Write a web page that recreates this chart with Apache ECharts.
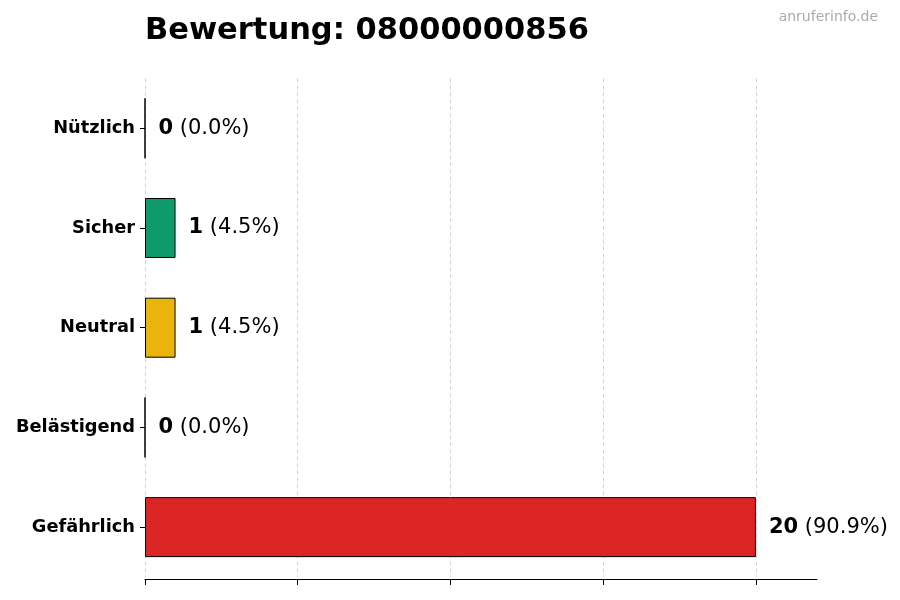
<!DOCTYPE html>
<html><head><meta charset="utf-8">
<script src="https://cdn.jsdelivr.net/npm/echarts@6/dist/echarts.min.js"></script>
<style>html,body{margin:0;padding:0;background:#fff}#c{width:900px;height:600px}</style>
</head><body><div id="c"></div>
<script>
const categories = ['Nützlich', 'Sicher', 'Neutral', 'Belästigend', 'Gefährlich'];
const counts = [0, 1, 1, 0, 20];
const percents = ['0.0%', '4.5%', '4.5%', '0.0%', '90.9%'];
const colors = ['#2b7bd6', '#0f9a6b', '#ebb40c', '#e07020', '#dc2626'];
const tickValues = [0, 5, 10, 15, 20];
const titleText = 'Bewertung: 08000000856';
const watermark = 'anruferinfo.de';

const chart = echarts.init(document.getElementById('c'));
const font = 'DejaVu Sans';
chart.setOption({
  animation: false,
  textStyle: { fontFamily: font },
  title: [
    { text: titleText, left: 145, top: 16, padding: 0, textStyle: { fontFamily: font, fontSize: 30.5, fontWeight: 'bold', color: '#000' } },
    { text: watermark, right: 22, top: 10, padding: 0, textStyle: { fontFamily: font, fontSize: 14, fontWeight: 'normal', color: '#aaaaaa' } }
  ],
  grid: { left: 145, right: 83, top: 78.4, bottom: 23, containLabel: false },
  xAxis: {
    type: 'value', min: 0, max: 22, interval: 5, offset: 2,
    axisLine: { show: true, lineStyle: { color: '#000', width: 1 } },
    axisTick: { show: true, length: 6, lineStyle: { color: '#000' }, customValues: tickValues },
    axisLabel: { show: false },
    splitLine: { show: true, lineStyle: { color: '#d4d4d4', type: [4, 3], width: 1 } }
  },
  yAxis: {
    type: 'category', inverse: true, data: categories,
    axisLine: { show: false },
    axisTick: { show: true, length: 5, alignWithLabel: true, lineStyle: { color: '#000' } },
    axisLabel: { margin: 10, padding: [3, 0, 0, 0], fontFamily: font, fontSize: 17.8, fontWeight: 'bold', color: '#000' }
  },
  series: [{
    type: 'bar', barWidth: 60, z: 1,
    data: counts.map((v, i) => ({ value: v, itemStyle: { color: colors[i] } })),
    itemStyle: { borderColor: '#000', borderWidth: 1 },
    label: {
      show: true, position: 'right', distance: 13,
      formatter: p => '{b|' + counts[p.dataIndex] + '}{n| (' + percents[p.dataIndex] + ')}',
      rich: {
        b: { fontFamily: font, fontSize: 21, fontWeight: 'bold', color: '#000' },
        n: { fontFamily: font, fontSize: 21, color: '#000' }
      }
    }
  }]
});
</script></body></html>
